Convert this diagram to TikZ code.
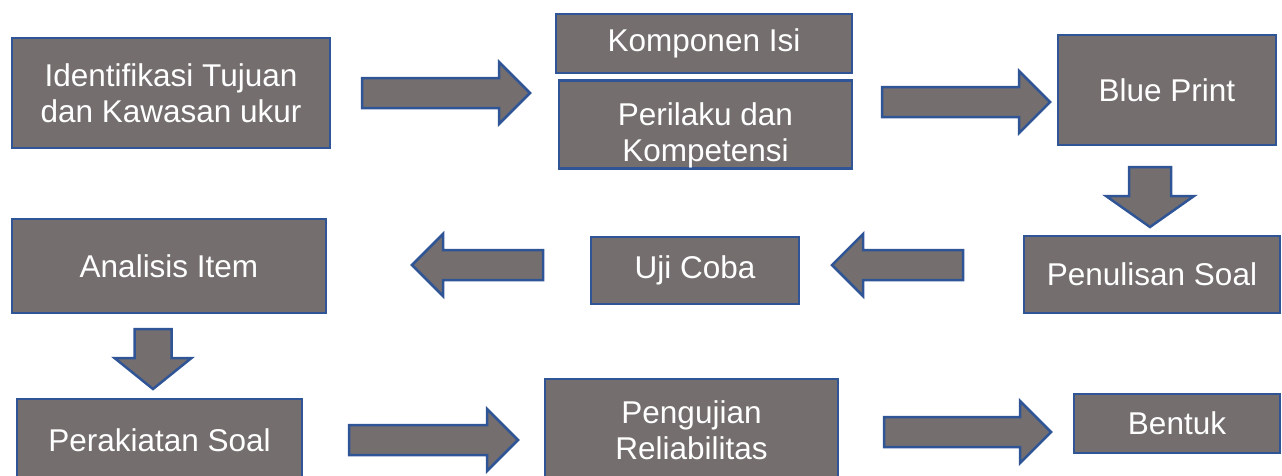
\documentclass[tikz,border=0pt]{standalone}
\usepackage{fontspec}
\setmainfont{Liberation Sans}
\definecolor{fillc}{RGB}{116,111,110}
\definecolor{bordc}{RGB}{47,85,151}
\newcommand\BlkRight[3]{% tail x, tip x, center y
  \draw[blk] (#1,#3-15) -- (#2-31,#3-15) -- (#2-31,#3-31) -- (#2,#3) -- (#2-31,#3+31) -- (#2-31,#3+15) -- (#1,#3+15) -- cycle;}
\newcommand\BlkLeft[3]{% tail x, tip x, center y
  \draw[blk] (#1,#3-15) -- (#2+31,#3-15) -- (#2+31,#3-31) -- (#2,#3) -- (#2+31,#3+31) -- (#2+31,#3+15) -- (#1,#3+15) -- cycle;}
\newcommand\BlkDown[5]{% center x, tail y, tip y, shaft half, head half
  \draw[blk] (#1-#4,#2) -- (#1+#4,#2) -- (#1+#4,#3-31) -- (#1+#5,#3-31) -- (#1,#3) -- (#1-#5,#3-31) -- (#1-#4,#3-31) -- cycle;}
\begin{document}
\begin{tikzpicture}[x=1pt,y=-1pt,
  box/.style={draw=bordc, fill=fillc, line width=2.5pt, text=white, inner sep=0pt,
    font=\fontsize{31.5}{36}\selectfont, align=center},
  txt/.style={text=white, inner sep=0pt, font=\fontsize{31.5}{36}\selectfont, align=center},
  blk/.style={draw=bordc, fill=fillc, line width=2.5pt, line join=miter}]
\useasboundingbox (0,0) rectangle (1282,475);
\clip (0,0) rectangle (1282,475);
% boxes
\node[box, minimum width=318pt, minimum height=110pt] (ident) at (171,93) {Identifikasi Tujuan\\dan Kawasan ukur};
\node[box, minimum width=296pt, minimum height=59pt] (komp) at (704,43.5) {Komponen Isi};
\node[box, minimum width=293pt, minimum height=88pt] (peril) at (705.5,124.5) {};
\begin{scope}
  \clip ([shift={(1.5,-1.5)}]peril.south west) rectangle ([shift={(-1.5,1.5)}]peril.north east);
  \node[txt, anchor=base] (peril1) at (705.5,125) {Perilaku dan};
  \node[txt, anchor=base] (peril2) at (705.5,161) {Kompetensi};
\end{scope}
\node[box, minimum width=218pt, minimum height=110pt] (blue) at (1167,90) {Blue Print};
\node[box, minimum width=256pt, minimum height=77pt] (pen) at (1152,274.5) {Penulisan Soal};
\node[box, minimum width=208pt, minimum height=67pt] (uji) at (695,270.5) {Uji Coba};
\node[box, minimum width=314pt, minimum height=94pt] (anal) at (169,266) {Analisis Item};
\node[box, minimum width=285pt, minimum height=82pt] (perak) at (159.5,440) {Perakiatan Soal};
\node[box, minimum width=293pt, minimum height=102pt] (peng) at (691.5,430) {Pengujian\\Reliabilitas};
\node[box, minimum width=206pt, minimum height=59pt] (bent) at (1177,423.5) {Bentuk};
% block arrows
\BlkRight{362}{530}{93}
\BlkRight{882}{1050}{102}
\BlkDown{1150}{167}{227}{21}{44}
\BlkLeft{963}{832}{265}
\BlkLeft{543}{412}{265}
\BlkDown{153}{329}{389}{18.5}{38.5}
\BlkRight{349}{518}{440}
\BlkRight{884}{1051}{432}
\end{tikzpicture}
\end{document}
